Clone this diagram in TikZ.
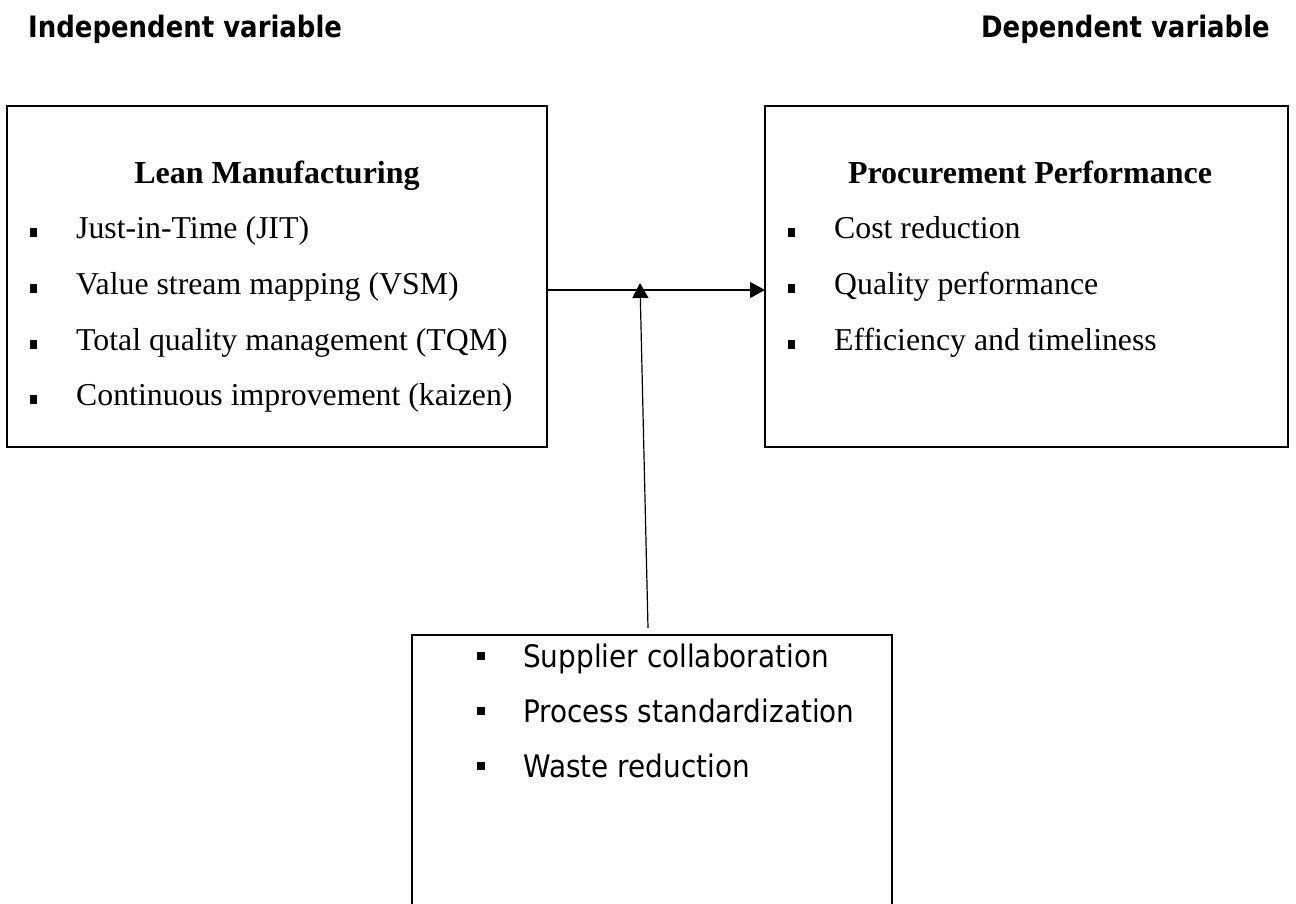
\documentclass[tikz,border=0pt]{standalone}
\usepackage{fontspec}
\setmainfont{Liberation Serif}
\newfontfamily\sansf{DejaVu Sans}
\usetikzlibrary{arrows.meta}
\newcommand{\sqbul}{\makebox[46pt][l]{\raisebox{1pt}{\rule{7pt}{9pt}}}}
\newcommand{\sqbuls}{\makebox[46pt][l]{\raisebox{7pt}{\rule{8pt}{8pt}}}}
\newcommand{\hdrtxt}[1]{\scalebox{0.88}[1]{#1}}
\newcommand{\bottxt}[1]{\scalebox{0.9}[1]{#1}}
\begin{document}
\begin{tikzpicture}[x=1pt,y=-1pt,
  box/.style={draw=black,line width=1.1pt,inner sep=0pt,outer sep=0pt,anchor=north west},
  hdr/.style={inner sep=0pt,anchor=base,font=\sansf\bfseries\fontsize{29.5}{34}\selectfont},
  ttl/.style={inner sep=0pt,anchor=base,font=\bfseries\fontsize{32}{38}\selectfont},
  itm/.style={inner sep=0pt,anchor=base west,font=\fontsize{31.8}{36}\selectfont},
  itms/.style={inner sep=0pt,anchor=base west,font=\sansf\fontsize{31}{36}\selectfont},
  arr/.style={line width=1.2pt,-{Triangle[length=15pt,width=16pt]}}]
\useasboundingbox (0,0) rectangle (1296,903);
% headers
\node[hdr,anchor=base west] (ih) at (28,37) {\hdrtxt{Independent variable}};
\node[hdr,anchor=base east] (dh) at (1270,37) {\hdrtxt{Dependent variable}};
% boxes
\node[box,minimum width=540pt,minimum height=341pt] (L) at (7,106) {};
\node[box,minimum width=523pt,minimum height=341pt] (R) at (765,106) {};
\node[box,line width=1.5pt,minimum width=480pt,minimum height=300pt] (B) at (412,635) {};
% left box content
\node[ttl] (lt) at (277,183) {Lean Manufacturing};
\node[itm] (l1) at (30,238) {\sqbul Just-in-Time (JIT)};
\node[itm] (l2) at (30,294) {\sqbul Value stream mapping (VSM)};
\node[itm] (l3) at (30,350) {\sqbul Total quality management (TQM)};
\node[itm] (l4) at (30,405) {\sqbul Continuous improvement (kaizen)};
% right box content
\node[ttl] (rt) at (1030,183) {Procurement Performance};
\node[itm] (r1) at (788,238) {\sqbul Cost reduction};
\node[itm] (r2) at (788,294) {\sqbul Quality performance};
\node[itm] (r3) at (788,350) {\sqbul Efficiency and timeliness};
% bottom box content
\node[itms] (b1) at (477,667) {\sqbuls\bottxt{Supplier collaboration}};
\node[itms] (b2) at (477,722) {\sqbuls\bottxt{Process standardization}};
\node[itms] (b3) at (477,777) {\sqbuls\bottxt{Waste reduction}};
% connectors
\coordinate (hs) at (547,290);
\coordinate (vt) at (640,283);
\coordinate (vs) at (648,628);
\draw[arr] (L.east |- hs) -- (R.west |- hs);
\draw[arr] (vs) -- (vt);
\end{tikzpicture}
\end{document}
